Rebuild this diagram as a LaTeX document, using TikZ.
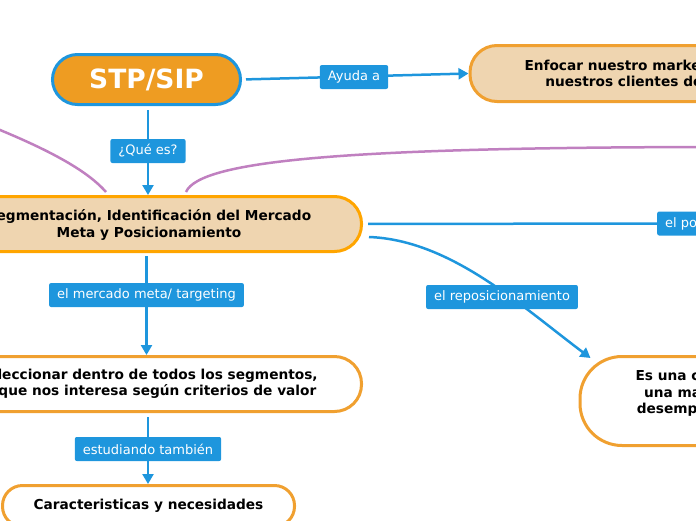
\documentclass[tikz,border=0pt]{standalone}
\usepackage{fontspec}
\setmainfont{DejaVu Sans}
\usetikzlibrary{arrows.meta,backgrounds}
\definecolor{cblue}{HTML}{1E96DD}
\definecolor{corange}{HTML}{EE9C22}
\definecolor{cborder}{HTML}{F0A030}
\definecolor{csegb}{HTML}{FFA500}
\definecolor{ctan}{HTML}{EFD5B0}
\definecolor{cpurple}{HTML}{C080C0}
\begin{document}
\begin{tikzpicture}[x=1pt,y=-1pt,
  concept/.style={draw=cborder, fill=white, line width=3pt, align=center, font=\bfseries\fontsize{13.7}{16.5}\selectfont, inner sep=0pt},
  lbl/.style={fill=cblue, text=white, rounded corners=2pt, font=\fontsize{13}{15}\selectfont, inner xsep=8pt, inner ysep=0pt, minimum height=24pt},
  conn/.style={draw=cblue, line width=2.5pt},
  arr/.style={-{Triangle[length=10pt,width=11pt]}},
  rel/.style={draw=cpurple, line width=2.5pt}]
\useasboundingbox (0,0) rectangle (696,520);
\clip (0,0) rectangle (696,520);

% concepts
\node[draw=cblue, fill=corange, line width=3pt, rounded corners=25pt, minimum width=188pt, minimum height=50pt, inner sep=0pt, text=white, font=\bfseries\fontsize{26.5}{30}\selectfont] (stp) at (146.5,79.5) {STP/SIP};
\node[concept, draw=csegb, fill=ctan, minimum width=425pt, minimum height=55pt, text height=29pt, rounded corners=27pt] (seg) at (149,224) {Segmentación, Identificación del Mercado\\Meta y Posicionamiento};
\node[concept, minimum width=427pt, minimum height=55pt, rounded corners=27pt] (sel) at (148,384) {Seleccionar dentro de todos los segmentos,\\el que nos interesa según criterios de valor};
\node[concept, fill=ctan, anchor=west, inner xsep=54.5pt, minimum height=56pt, rounded corners=27pt] (enf) at (468.5,73.5) {Enfocar nuestro marketing hacia\\nuestros clientes deseados};
\node[concept, anchor=west, inner xsep=55.5pt, minimum height=89pt, text depth=18pt, rounded corners=42pt] (esuna) at (578.5,401) {Es una corrección de\\una marca de bajo\\desempeño reciente};
\node[concept, minimum width=292pt, minimum height=41pt, rounded corners=20pt] (car) at (148.5,506) {Caracteristicas y necesidades};

% labels
\node[lbl] (l1) at (148,151) {¿Qué es?};
\node[lbl] (l2) at (354,77) {Ayuda a};
\node[lbl] (l3) at (146.5,295) {el mercado meta/ targeting};
\node[lbl] (l4) at (148,449) {estudiando también};
\node[lbl, anchor=west] (l5) at (657,223.5) {el posicionamiento};
\node[lbl] (l6) at (502,297) {el reposicionamiento};

\coordinate (pl) at (-30,118);
\coordinate (pr) at (730,147);

\begin{pgfonlayer}{background}
\draw[conn, arr, shorten <=4pt] (l1 |- stp.south) -- (l1 |- seg.north);
\draw[conn, arr, shorten <=4pt] (stp.east) -- (enf.west);
\draw[conn, shorten <=5pt] (seg.east) -- (l5.west);
\draw[conn, arr] ([xshift=6pt,yshift=-13pt]seg.east) .. controls (450,240) and (520,305) .. ([xshift=12pt,yshift=43pt]esuna.west);
\draw[conn, arr, shorten <=3pt] (l3 |- seg.south) -- (l3 |- sel.north);
\draw[conn, arr, shorten <=4pt] (l4 |- sel.south) -- (l4 |- car.north);
\draw[rel] (pl) .. controls (40,145) and (85,168) .. (106,192);
\draw[rel] (186,192) .. controls (200,160) and (350,147) .. (pr);
\end{pgfonlayer}
\end{tikzpicture}
\end{document}
